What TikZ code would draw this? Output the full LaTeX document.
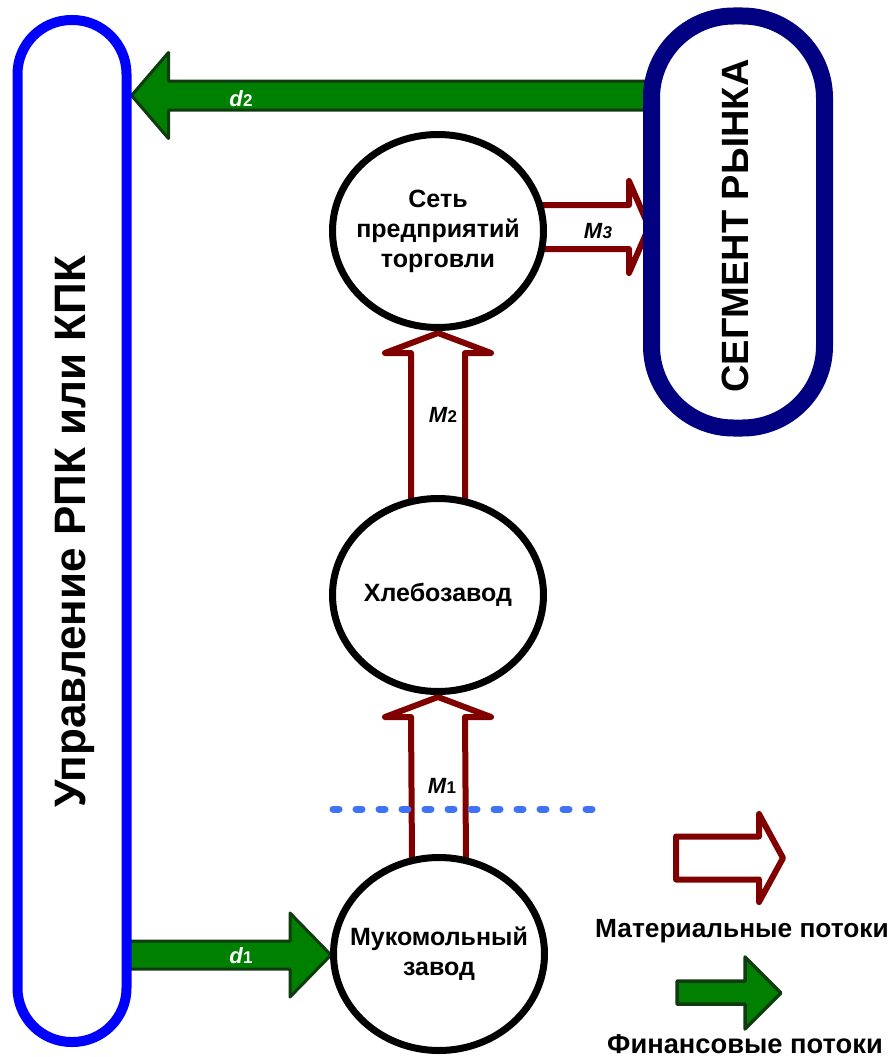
\documentclass[tikz,border=0pt]{standalone}
\usepackage{fontspec}
\setmainfont{Liberation Sans}
\usetikzlibrary{shapes.geometric,calc,backgrounds}
\definecolor{maroonc}{RGB}{128,0,0}
\definecolor{fgreen}{RGB}{0,128,0}
\definecolor{darkgr}{RGB}{16,58,16}
\definecolor{pblue}{RGB}{0,0,255}
\definecolor{pnavy}{RGB}{0,0,128}
\definecolor{dotblue}{RGB}{64,114,245}
\begin{document}
\begin{tikzpicture}[x=1pt,y=-1pt,
  hub/.style={ellipse,draw=black,line width=7pt,fill=white,minimum width=211pt,minimum height=193pt,inner sep=0pt},
  hubtxt/.style={align=center,inner sep=0pt,font=\bfseries\fontsize{25}{30}\selectfont},
  matarr/.style={draw=maroonc,line width=6pt,line join=round,fill=white},
  finarr/.style={draw=darkgr,line width=3pt,line join=round,fill=fgreen},
  flowlbl/.style={anchor=base,inner sep=0pt,font=\bfseries\fontsize{22}{22}\selectfont},
  legtxt/.style={anchor=base,inner sep=0pt,font=\bfseries\fontsize{26.3}{26}\selectfont},
  dotline/.style={draw=dotblue,line width=7pt,line cap=round,dash pattern=on 6pt off 17pt}]
\useasboundingbox (0,0) rectangle (891,1057);

% big boxes
\node[draw=pblue,line width=10pt,rounded corners=54pt,fill=white,minimum width=109pt,minimum height=1022pt,inner sep=0pt] (upr) at (72,531) {};
\node[rotate=90,anchor=base,inner sep=0pt,font=\bfseries\fontsize{44}{44}\selectfont] (uprtxt) at (85,532) {Управление РПК или КПК};

\node[draw=pnavy,line width=17pt,rounded corners=82pt,fill=white,minimum width=173pt,minimum height=412pt,inner sep=0pt] (seg) at (738,222) {};
\node[rotate=90,anchor=base,inner sep=0pt,font=\bfseries\fontsize{38}{38}\selectfont] (segtxt) at (748,226) {СЕГМЕНТ РЫНКА};

% circles
\node[hub] (set) at (438,231) {};
\node[hubtxt] (settxt) at (set) {Сеть\\предприятий\\торговли};
\node[hub] (hleb) at (438,595) {};
\node[hubtxt] (hlebtxt) at (hleb) {Хлебозавод};
\node[hub] (muk) at (439,954) {};
\node[hubtxt] (muktxt) at (muk) {Мукомольный\\завод};

\coordinate (m3y) at (0,227);
\coordinate (d2y) at (0,95.5);
\coordinate (d1y) at (0,955);

\begin{scope}[on background layer]
% M1
\draw[matarr] ($(muk.north)+(-27,6)$) -- ($(hleb.south)+(-27,22)$) -- ($(hleb.south)+(-53,22)$) -- ($(hleb.south)+(0,2)$) -- ($(hleb.south)+(53,22)$) -- ($(hleb.south)+(27,22)$) -- ($(muk.north)+(27,6)$) -- cycle;
% M2
\draw[matarr] ($(hleb.north)+(-27,6)$) -- ($(set.south)+(-27,22)$) -- ($(set.south)+(-53,22)$) -- ($(set.south)+(0,2)$) -- ($(set.south)+(53,22)$) -- ($(set.south)+(27,22)$) -- ($(hleb.north)+(27,6)$) -- cycle;
% M3
\path (set.east |- m3y) coordinate (m3a) (seg.west |- m3y) coordinate (m3b);
\draw[matarr] ($(m3a)+(-6,-22)$) -- ($(m3b)+(-14,-22)$) -- ($(m3b)+(-14,-46)$) -- ($(m3b)+(6,0)$) -- ($(m3b)+(-14,46)$) -- ($(m3b)+(-14,22)$) -- ($(m3a)+(-6,22)$) -- cycle;
% d2
\path (seg.west |- d2y) coordinate (d2a) (upr.east |- d2y) coordinate (d2b);
\draw[finarr] ($(d2a)+(12,-14.5)$) -- ($(d2b)+(37,-14.5)$) -- ($(d2b)+(37,-43)$) -- (d2b) -- ($(d2b)+(37,43)$) -- ($(d2b)+(37,14.5)$) -- ($(d2a)+(12,14.5)$) -- cycle;
% d1
\path (upr.east |- d1y) coordinate (d1a) (muk.west |- d1y) coordinate (d1b);
\draw[finarr] ($(d1a)+(-12,-14)$) -- ($(d1b)+(-40,-14)$) -- ($(d1b)+(-40,-42)$) -- ($(d1b)+(1,0)$) -- ($(d1b)+(-40,42)$) -- ($(d1b)+(-40,14)$) -- ($(d1a)+(-12,14)$) -- cycle;
\end{scope}

% dotted boundary
\draw[dotline] (333,809) -- (592,809);

% flow labels
\node[flowlbl] (lm1) at (442,793) {\textit{M}{\fontsize{17}{17}\selectfont 1}};
\node[flowlbl] (lm2) at (443,422) {\textit{M}{\fontsize{17}{17}\selectfont 2}};
\node[flowlbl] (lm3) at (598,238) {\textit{M}{\fontsize{17}{17}\selectfont\textit{3}}};
\node[flowlbl,text=white] (ld1) at (241,963) {\textit{d}{\fontsize{17}{17}\selectfont 1}};
\node[flowlbl,text=white] (ld2) at (241,106) {\textit{d}{\fontsize{17}{17}\selectfont 2}};

% legend
\draw[matarr] (676,836.5) -- (759,836.5) -- (759,814) -- (783,858) -- (759,902) -- (759,879.5) -- (676,879.5) -- cycle;
\node[legtxt] (legm) at (742,937) {Материальные потоки};
\draw[finarr,line width=3.5pt] (677,981) -- (745,981) -- (745,957) -- (781,993) -- (745,1029) -- (745,1004) -- (677,1004) -- cycle;
\node[legtxt,font=\bfseries\fontsize{27.3}{27}\selectfont] (legf) at (745,1053) {Финансовые потоки};
\end{tikzpicture}
\end{document}
